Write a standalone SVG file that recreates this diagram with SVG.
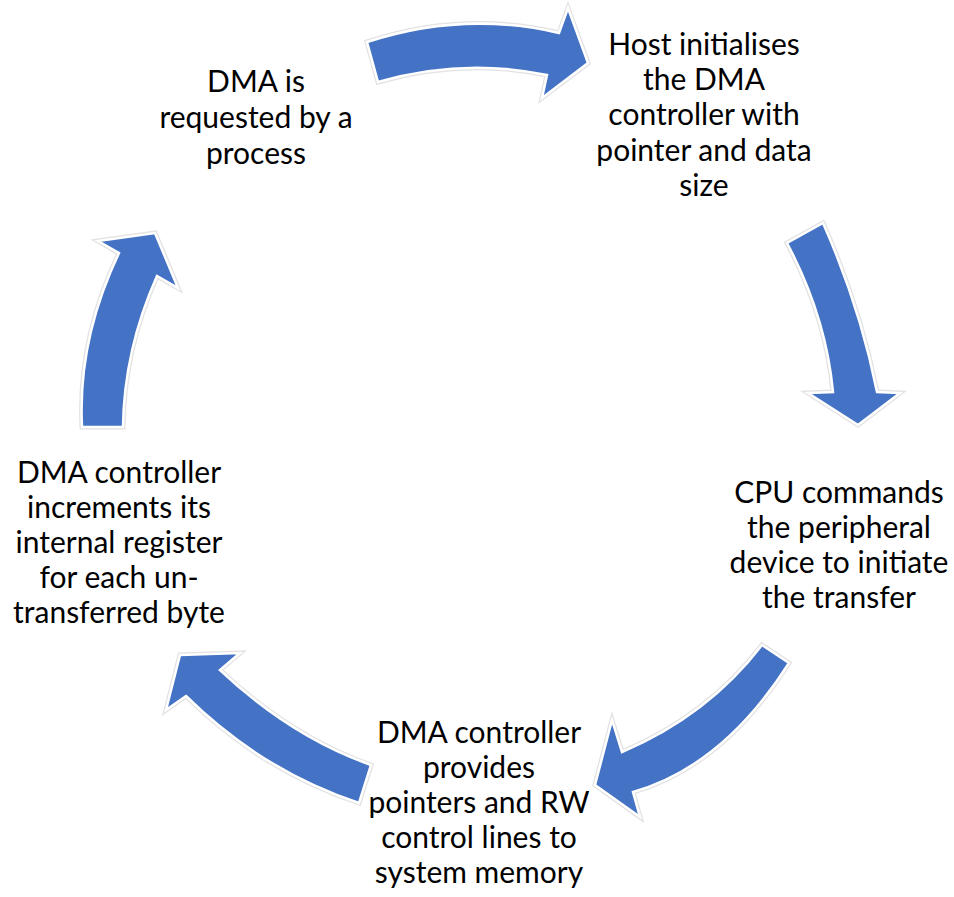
<svg xmlns="http://www.w3.org/2000/svg" width="954" height="897" viewBox="0 0 954 897">
  <style>
    .label { font-family: Lato, "Liberation Sans", sans-serif; font-size: 30px; fill: #000; text-anchor: middle; }
    .halo { fill: none; stroke: #e2e2e2; stroke-width: 5; stroke-linejoin: miter; }
    .arrow { fill: #4472C4; stroke: #ffffff; stroke-width: 2.5; stroke-linejoin: miter; }
  </style>
  <defs>
    <path id="a1" d="M367,42 Q463,10.5 559,33 L568,8 L588,63 L542,98 L547,75 Q462.5,57.5 378,82 Z"/>
    <path id="a2" d="M823,223 Q860,306.5 877,392 L900,393 L858,425 L808,393 L833,392 Q826,316.5 787,243 Z"/>
    <path id="a3" d="M762,645 L789,663 Q723,766.5 633,792 L640,817 L595,785 L612,720 L622,752 Q708,715.5 762,645 Z"/>
    <path id="a4" d="M371,765 Q290.5,736.5 220,670 L240,653 L180,655 L166,710 L186,696 Q261.5,770.5 359,803 Z"/>
    <path id="a5" d="M123,427 Q124,350 157,276 L178,288 L155,233 L98,241 L119,253 Q77.5,340 82,427 Z"/>
  </defs>
  <rect width="954" height="897" fill="#ffffff"/>

  <!-- cycle arrows -->
  <g id="connectors">
    <use href="#a1" class="halo"/><use href="#a1" class="arrow"/>
    <use href="#a2" class="halo"/><use href="#a2" class="arrow"/>
    <use href="#a3" class="halo"/><use href="#a3" class="arrow"/>
    <use href="#a4" class="halo"/><use href="#a4" class="arrow"/>
    <use href="#a5" class="halo"/><use href="#a5" class="arrow"/>
  </g>

  <g id="node-request">
    <text class="label" x="256" y="92">DMA is</text>
    <text class="label" x="256" y="128">requested by a</text>
    <text class="label" x="256" y="164">process</text>
  </g>

  <g id="node-init">
    <text class="label" x="704" y="55">Host initialises</text>
    <text class="label" x="704" y="90">the DMA</text>
    <text class="label" x="704" y="125">controller with</text>
    <text class="label" x="704" y="161">pointer and data</text>
    <text class="label" x="704" y="196">size</text>
  </g>

  <g id="node-cpu">
    <text class="label" x="839" y="503">CPU commands</text>
    <text class="label" x="839" y="538">the peripheral</text>
    <text class="label" x="839" y="573">device to initiate</text>
    <text class="label" x="839" y="608">the transfer</text>
  </g>

  <g id="node-memory">
    <text class="label" x="479" y="743">DMA controller</text>
    <text class="label" x="479" y="778">provides</text>
    <text class="label" x="479" y="813">pointers and RW</text>
    <text class="label" x="479" y="848">control lines to</text>
    <text class="label" x="479" y="883">system memory</text>
  </g>

  <g id="node-increment">
    <text class="label" x="119" y="483">DMA controller</text>
    <text class="label" x="119" y="518">increments its</text>
    <text class="label" x="119" y="553">internal register</text>
    <text class="label" x="119" y="588">for each un-</text>
    <text class="label" x="119" y="623">transferred byte</text>
  </g>
</svg>
